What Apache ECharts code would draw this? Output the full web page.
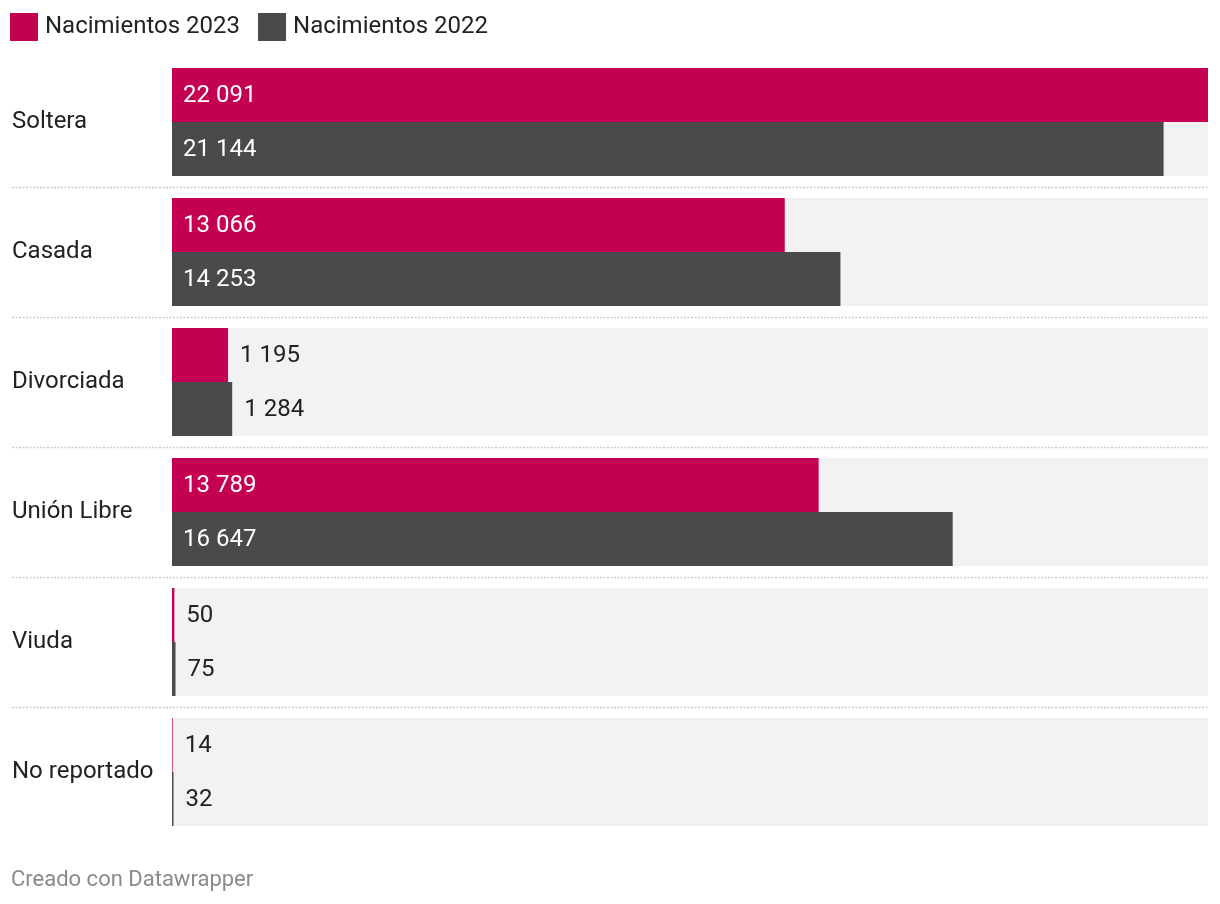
<!DOCTYPE html>
<html>
<head>
<meta charset="utf-8">
<script src="https://cdn.jsdelivr.net/npm/echarts@6/dist/echarts.min.js"></script>
<style>
html,body{margin:0;padding:0;background:#fff;}
#c{width:1220px;height:904px;}
</style>
</head>
<body>
<div id="c"></div>
<script>
const categories = ['Soltera', 'Casada', 'Divorciada', 'Unión Libre', 'Viuda', 'No reportado'];
const births2023 = [22091, 13066, 1195, 13789, 50, 14];
const births2022 = [21144, 14253, 1284, 16647, 75, 32];
const seriesNames = ['Nacimientos 2023', 'Nacimientos 2022'];
const colors = ['#c40052', '#4a4a4a'];

const FONT = 'Roboto, "Noto Sans", sans-serif';
const fmt = v => String(v).replace(/\B(?=(\d{3})+(?!\d))/g, ' ');

function makeData(arr) {
  return arr.map(v => {
    const inside = v > 5000;
    return {
      value: v,
      label: inside
        ? { position: 'insideLeft', distance: 11, color: '#ffffff' }
        : { position: 'right', distance: 12, color: '#222222' }
    };
  });
}

const chart = echarts.init(document.getElementById('c'), null, { renderer: 'canvas' });

const option = {
  animation: false,
  backgroundColor: '#ffffff',
  color: colors,
  textStyle: { fontFamily: FONT },
  legend: {
    left: 10,
    top: 13,
    padding: 0,
    icon: 'rect',
    itemWidth: 28,
    itemHeight: 28,
    itemGap: 18,
    textStyle: { fontSize: 24, color: '#222222', fontFamily: FONT, padding: [0, 0, 0, 2] },
    selectedMode: false,
    data: seriesNames
  },
  grid: { left: 172, right: 12, top: 57, bottom: 67, containLabel: false },
  xAxis: {
    type: 'value',
    min: 0,
    max: 22091,
    show: false
  },
  yAxis: {
    type: 'category',
    data: categories,
    inverse: true,
    axisLine: { show: false },
    axisTick: { show: false },
    splitLine: { show: false },
    axisLabel: {
      align: 'left',
      margin: 160,
      fontSize: 24,
      color: '#222222',
      fontFamily: FONT,
      padding: [6, 0, 0, 0]
    }
  },
  series: [
    {
      name: seriesNames[0],
      type: 'bar',
      data: makeData(births2023),
      barWidth: 54,
      barGap: '0%',
      showBackground: true,
      backgroundStyle: { color: '#f2f2f2' },
      label: { show: true, fontSize: 24, fontFamily: FONT, offset: [0, 1], formatter: p => fmt(p.value) }
    },
    {
      name: seriesNames[1],
      type: 'bar',
      data: makeData(births2022),
      barWidth: 54,
      barGap: '0%',
      showBackground: true,
      backgroundStyle: { color: '#f2f2f2' },
      label: { show: true, fontSize: 24, fontFamily: FONT, offset: [0, 1], formatter: p => fmt(p.value) }
    }
  ],
  graphic: [
    {
      type: 'text',
      left: 11,
      top: 869,
      style: { text: 'Creado con Datawrapper', fill: '#8a8a8a', fontSize: 22, fontFamily: FONT }
    }
  ]
};

chart.setOption(option);

// dotted separators between categories, positioned via the category scale
const lines = [];
for (let i = 0; i < categories.length - 1; i++) {
  const y1 = chart.convertToPixel({ yAxisIndex: 0 }, categories[i]);
  const y2 = chart.convertToPixel({ yAxisIndex: 0 }, categories[i + 1]);
  const y = Math.round((y1 + y2) / 2) + 0.5;
  lines.push({
    type: 'line',
    shape: { x1: 12, y1: y, x2: 1208, y2: y },
    style: { stroke: '#cccccc', lineWidth: 1.5, lineDash: [2, 1.5] },
    silent: true
  });
}
chart.setOption({ graphic: option.graphic.concat(lines) });
</script>
</body>
</html>
